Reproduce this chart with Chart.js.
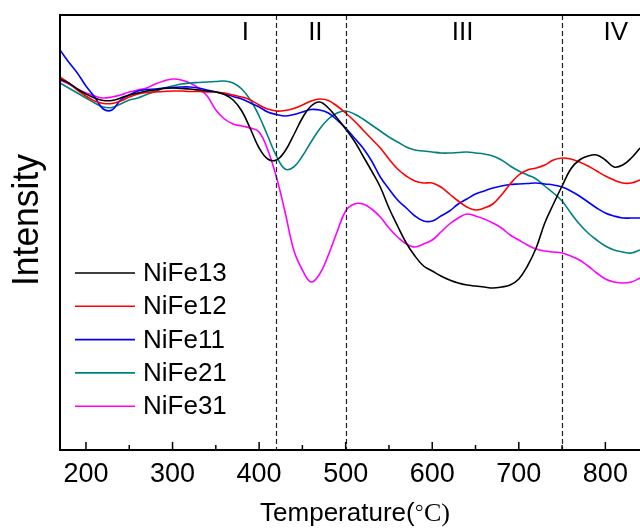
<!DOCTYPE html>
<html>
<head>
<meta charset="utf-8">
<script src="https://cdn.jsdelivr.net/npm/chart.js@4.4.1/dist/chart.umd.min.js"></script>
<style>
  html, body { margin: 0; padding: 0; background: #fff; overflow: hidden; }
  #contenedor { width: 640px; height: 530px; }
</style>
</head>
<body>
<div id="contenedor"><canvas id="grafico-tpr" width="640" height="530"></canvas></div>
<script>
// temperaturas (°C)
const temperaturas = [170, 180, 190, 200, 210, 220, 230, 240, 250, 260,
  270, 280, 290, 300, 310, 320, 330, 340, 350, 360,
  370, 380, 390, 400, 410, 420, 430, 440, 450, 460,
  470, 480, 490, 500, 510, 520, 530, 540, 550, 560,
  570, 580, 590, 600, 610, 620, 630, 640, 650, 660,
  670, 680, 690, 700, 710, 720, 730, 740, 750, 760,
  770, 780, 790, 800, 810, 820, 830, 840]

// intensidad (u.a.)
const nife13 = [371, 367, 361, 356, 352, 349.5, 349.5, 352, 355, 357,
  359, 360, 361.5, 362, 361.5, 361, 360, 359, 358, 355.5,
  350, 339, 321, 302, 291, 290, 299, 315, 332, 344,
  348, 342, 332, 321, 309, 294, 279, 263, 242, 224,
  207, 194, 184, 179, 174, 170, 167, 165, 164, 163,
  162, 163, 165, 171, 184, 202, 227, 246, 264, 281,
  290, 294, 295, 290, 283, 285, 292, 302]

const nife12 = [373, 367, 360, 354, 349, 346.5, 346.5, 349, 353, 356,
  357.5, 358, 358.5, 359, 359, 358.5, 358.5, 358, 358, 357,
  355, 353, 350, 345, 341, 339, 339.5, 341.5, 345, 349,
  351, 349.5, 344, 337, 329, 320, 311, 302, 291, 281,
  274, 269, 267, 267, 263, 256, 249, 243, 240, 242,
  246, 255, 266, 275, 280, 282, 285, 290, 292, 291,
  288, 284, 279, 274, 270, 267, 267, 270]

const nife11 = [400, 388, 377, 364, 353, 341, 340, 350, 355, 359,
  360.5, 361, 362, 362.5, 363, 363, 362, 360, 358, 356,
  353.5, 351, 347, 343, 338, 335.5, 334, 335.5, 338, 340.5,
  340, 337, 330, 322, 312, 302, 289, 273, 261, 250,
  242, 234, 229, 229, 234, 239, 246, 251, 256, 259,
  262, 264, 265.5, 266, 266.5, 267, 266, 265, 263, 259,
  254, 248, 242, 237, 234, 232, 232, 232]

const nife21 = [367, 362, 357, 352, 347, 343, 342.5, 346, 350, 352,
  355.5, 358.5, 362, 364, 366, 367, 367.5, 368, 368.5, 369,
  367, 361, 350, 334, 314, 294, 281, 283, 294, 308,
  321, 331, 337, 339, 336, 331, 325, 319, 313, 308,
  303, 300, 299, 298, 297, 297, 297.5, 298, 297, 296,
  294, 290, 284, 279, 275, 271, 264, 257, 249, 237,
  226, 217, 210, 204, 200, 198, 197, 200]

const nife31 = [370, 366, 361, 357, 354, 352, 353, 355, 358, 360,
  362, 366, 369, 371, 370, 367, 362, 354, 340, 331,
  326, 324, 322, 318, 300, 273, 238, 200, 180, 168,
  176, 195, 218, 239, 246, 246, 241, 233, 222, 213,
  206, 203, 206, 210, 218, 226, 232, 236, 234, 231,
  227, 222, 215, 210, 205, 201, 199, 198, 197, 194,
  190, 184, 177, 171, 168, 167, 168, 172]

const muestras = ['NiFe13', 'NiFe12', 'NiFe11', 'NiFe21', 'NiFe31']
const series = [nife13, nife12, nife11, nife21, nife31]
const colores = ['#000000', '#ff0000', '#0000ff', '#008080', '#ff00ff']

// zonas de reducción
const limitesZonas = [420, 500, 750]
const zonas = ['I', 'II', 'III', 'IV']
const centrosZonas = [384, 465, 635, 812]

const fuente = '"Liberation Sans", Arial, sans-serif'
const fuenteSerif = '"Liberation Serif", "Times New Roman", serif'
Chart.defaults.font.family = fuente

const decoracion = {
  id: 'decoracion',
  afterDraw(chart) {
    const { ctx, chartArea: a, scales: { x } } = chart
    ctx.save()

    // líneas punteadas entre zonas
    ctx.strokeStyle = '#222'
    ctx.lineWidth = 1.2
    ctx.setLineDash([5, 3])
    limitesZonas.forEach(t => {
      const px = Math.round(x.getPixelForValue(t)) + 0.5
      ctx.beginPath()
      ctx.moveTo(px, a.top)
      ctx.lineTo(px, a.bottom)
      ctx.stroke()
    })
    ctx.setLineDash([])

    // marco
    ctx.strokeStyle = '#000'
    ctx.lineWidth = 2
    ctx.beginPath()
    ctx.moveTo(a.right + 5, a.top)
    ctx.lineTo(a.left, a.top)
    ctx.lineTo(a.left, a.bottom)
    ctx.lineTo(a.right + 5, a.bottom)
    ctx.stroke()

    // ticks hacia adentro
    ctx.lineWidth = 1.5
    x.ticks.forEach(t => {
      const px = x.getPixelForValue(t.value)
      ctx.beginPath()
      ctx.moveTo(px, a.bottom)
      ctx.lineTo(px, a.bottom - 8)
      ctx.stroke()
      const pm = x.getPixelForValue(t.value + 50)
      if (pm < a.right) {
        ctx.beginPath()
        ctx.moveTo(pm, a.bottom)
        ctx.lineTo(pm, a.bottom - 5)
        ctx.stroke()
      }
    })

    // nombres de zonas
    ctx.fillStyle = '#000'
    ctx.font = '26px ' + fuente
    ctx.textAlign = 'center'
    ctx.textBaseline = 'alphabetic'
    zonas.forEach((z, i) => {
      ctx.fillText(z, x.getPixelForValue(centrosZonas[i]), 40)
    })

    // leyenda
    ctx.textAlign = 'left'
    ctx.textBaseline = 'middle'
    chart.data.datasets.forEach((d, i) => {
      const y = 273 + i * 33.3
      ctx.strokeStyle = d.borderColor
      ctx.lineWidth = 1.6
      ctx.beginPath()
      ctx.moveTo(75, y)
      ctx.lineTo(135, y)
      ctx.stroke()
      ctx.fillText(d.label, 143, y + 1)
    })

    // título eje x
    ctx.textBaseline = 'alphabetic'
    ctx.font = '26px ' + fuente
    const parte1 = 'Temperature('
    const w1 = ctx.measureText(parte1).width
    ctx.font = '26px ' + fuenteSerif
    const grado = '\u25E6'
    const wg = ctx.measureText(grado).width
    const parte2 = 'C)'
    const w2 = ctx.measureText(parte2).width
    const inicio = 355 - (w1 + wg + w2) / 2
    ctx.font = '26px ' + fuente
    ctx.fillText(parte1, inicio, 521)
    ctx.font = '26px ' + fuenteSerif
    ctx.fillText(grado, inicio + w1, 516)
    ctx.fillText(parte2, inicio + w1 + wg, 521)

    // título eje y
    ctx.save()
    ctx.translate(28, 220)
    ctx.rotate(-Math.PI / 2)
    ctx.font = '37px ' + fuente
    ctx.textAlign = 'center'
    ctx.textBaseline = 'middle'
    ctx.fillText('Intensity', 0, 0, 132)
    ctx.restore()

    ctx.restore()
  }
}

const ctx = document.getElementById('grafico-tpr').getContext('2d')

new Chart(ctx, {
  type: 'line',
  data: {
    datasets: series.map((s, i) => ({
      label: muestras[i],
      data: temperaturas.map((t, j) => ({ x: t, y: s[j] })),
      borderColor: colores[i],
      borderWidth: 1.6,
      pointRadius: 0,
      fill: false,
      tension: 0.4
    }))
  },
  options: {
    responsive: false,
    animation: false,
    layout: { padding: { top: 15, left: 60, right: 0, bottom: 0 } },
    plugins: {
      legend: { display: false },
      tooltip: { enabled: false }
    },
    scales: {
      x: {
        type: 'linear',
        min: 170,
        max: 840,
        grid: { display: false, drawTicks: false },
        border: { display: false },
        ticks: {
          stepSize: 100,
          includeBounds: false,
          padding: 8,
          color: '#000',
          font: { size: 27 }
        },
        afterFit: s => { s.height = 80 }
      },
      y: {
        display: false,
        min: 0,
        max: 435
      }
    }
  },
  plugins: [decoracion]
})
</script>
</body>
</html>
